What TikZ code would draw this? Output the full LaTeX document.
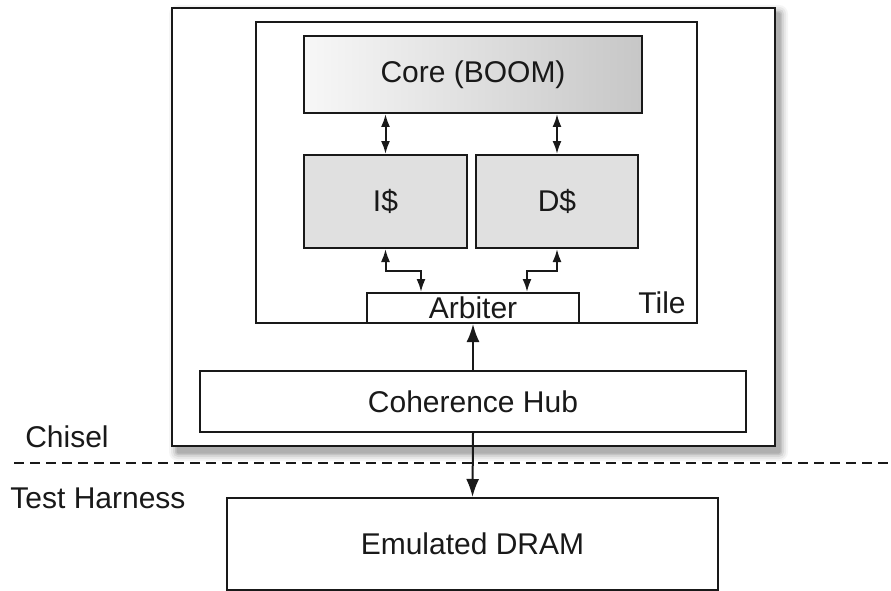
\documentclass[tikz,border=0pt]{standalone}
\usepackage{fontspec}
\setmainfont{Liberation Sans}
\usetikzlibrary{arrows.meta,calc}
\begin{document}
\begin{tikzpicture}[x=1pt,y=-1pt,
  font=\fontsize{30}{35}\selectfont,
  box/.style={draw=black!90, line width=2pt, fill=white, inner sep=0pt, text=black!90},
  conn/.style={line width=2pt, draw=black!90, {Latex[length=13pt,width=9pt]}-{Latex[length=13pt,width=9pt]}},
  bigarrow/.style={line width=2pt, draw=black!90, -{Latex[length=18pt,width=13pt]}}
]
\useasboundingbox (0,0) rectangle (891,591);
\fill[white] (0,0) rectangle (891,591);
% shadow of outer box
\foreach \d/\o in {9/0.04,7/0.05,5/0.07,3/0.09,1.5/0.1}{
  \fill[black, opacity=\o, rounded corners=\d pt] (178-\d,14-\d) rectangle (779+\d,452+\d);
}
\node[box, minimum width=603pt, minimum height=438pt] (outer) at (473.5,227) {};
\node[box, minimum width=441pt, minimum height=301pt] (tile) at (476.5,172.5) {};
\node[box, minimum width=338pt, minimum height=77pt, left color=black!3, right color=black!22] (core) at (473,74.5) {Core (BOOM)};
\node[box, fill=black!12, minimum width=163pt, minimum height=93pt] (icache) at (385.5,201.5) {I\$};
\node[box, fill=black!12, minimum width=162pt, minimum height=93pt] (dcache) at (557,201.5) {D\$};
\node[box, minimum width=212pt, minimum height=30pt] (arb) at (473,308) {Arbiter};
\node[text=black!90] (tilelbl) at (662,303) {Tile};
\node[box, minimum width=546pt, minimum height=61pt] (hub) at (473,401.5) {Coherence Hub};
\node[box, minimum width=491pt, minimum height=92pt] (dram) at (472.5,544) {Emulated DRAM};
\coordinate (dl) at (14,463);
\coordinate (dr) at (891,463);
\draw[line width=2pt, dash pattern=on 10pt off 6pt, draw=black!90] (dl) -- (dr);
\node[text=black!90] (chisel) at (67,437) {Chisel};
\node[text=black!90] (th) at (98,498) {Test Harness};
% connectors
\draw[conn] (icache.north |- core.south) -- (icache.north);
\draw[conn] (dcache.north |- core.south) -- (dcache.north);
\draw[conn] (icache.south) -- ++(0,22) -| ([xshift=-52pt]arb.north);
\draw[conn] (dcache.south) -- ++(0,22) -| ([xshift=54pt]arb.north);
\draw[bigarrow] (hub.north) -- (arb.south);
\draw[bigarrow] (hub.south) -- (dram.north);
\end{tikzpicture}
\end{document}
